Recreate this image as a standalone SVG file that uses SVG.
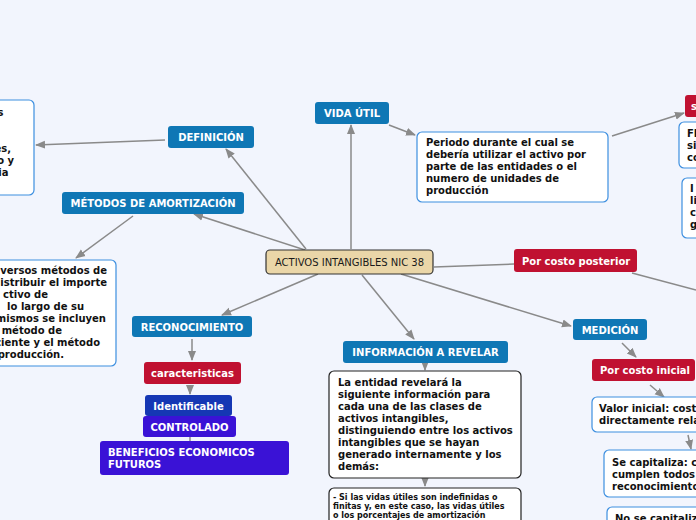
<svg xmlns="http://www.w3.org/2000/svg" width="696" height="520" viewBox="0 0 696 520">
<defs>
<marker id="ah" markerUnits="userSpaceOnUse" markerWidth="10" markerHeight="10" viewBox="0 0 10 10" refX="9" refY="5" orient="auto">
<path d="M0,1 L10,5 L0,9 Z" fill="#8a8a8a"/>
</marker>
<style>
text{font-family:"DejaVu Sans","Verdana",sans-serif;}
.bl{fill:#0f77b5;}
.rd{fill:#c01131;}
.nt{fill:#fff;font-weight:bold;font-size:10px;}
.wb{fill:#fff;stroke:#3d8fe0;stroke-width:1.2;}
.kb{fill:#fff;stroke:#222;stroke-width:1.2;}
.tx{fill:#111;font-weight:bold;font-size:10px;}
.sm{fill:#111;font-weight:bold;font-size:8px;}
.cn line{stroke:#8a8a8a;stroke-width:1.5;fill:none;}
</style>
</defs>
<rect width="696" height="520" fill="#f2f5fd"/>
<g class="cn" id="connectors">
<line x1="306" y1="249" x2="226" y2="149" marker-end="url(#ah)"/>
<line x1="165" y1="140" x2="36" y2="145" marker-end="url(#ah)"/>
<line x1="351" y1="249" x2="351" y2="125" marker-end="url(#ah)"/>
<line x1="389" y1="125" x2="415" y2="135" marker-end="url(#ah)"/>
<line x1="612" y1="136" x2="684" y2="113" marker-end="url(#ah)"/>
<line x1="305" y1="250" x2="194" y2="214" marker-end="url(#ah)"/>
<line x1="133" y1="216" x2="76" y2="258" marker-end="url(#ah)"/>
<line x1="318" y1="274" x2="222" y2="315" marker-end="url(#ah)"/>
<line x1="192" y1="339" x2="192" y2="360" marker-end="url(#ah)"/>
<line x1="190" y1="386" x2="190" y2="394" marker-end="url(#ah)"/>
<line x1="190" y1="437" x2="190" y2="441"/>
<line x1="362" y1="275" x2="414" y2="339" marker-end="url(#ah)"/>
<line x1="425" y1="364" x2="425" y2="370" marker-end="url(#ah)"/>
<line x1="425" y1="479" x2="425" y2="486" marker-end="url(#ah)"/>
<line x1="401" y1="274" x2="571" y2="326" marker-end="url(#ah)"/>
<line x1="622" y1="343" x2="636" y2="357" marker-end="url(#ah)"/>
<line x1="650" y1="385" x2="664" y2="397" marker-end="url(#ah)"/>
<line x1="688" y1="435" x2="691" y2="449" marker-end="url(#ah)"/>
<line x1="434" y1="267" x2="514" y2="264"/>
<line x1="632" y1="273" x2="696" y2="290"/>
</g>
<g id="central">
<rect x="266" y="250" width="167" height="24" rx="4" fill="#ead6a8" stroke="#333" stroke-width="1.2"/>
<text x="349.5" y="266" text-anchor="middle" font-size="10" fill="#1a1a1a">ACTIVOS INTANGIBLES NIC 38</text>
</g>
<g id="definicion">
<rect class="bl" x="168" y="126" width="86" height="22" rx="3"/>
<text class="nt" x="211" y="141" text-anchor="middle">DEFINICIÓN</text>
</g>
<g id="definicion-box">
<rect class="wb" x="-20" y="100" width="54" height="95" rx="5"/>
<text class="tx" x="3.5" y="116" text-anchor="end">s</text>
<text class="tx" x="11" y="152" text-anchor="end">es,</text>
<text class="tx" x="14" y="164" text-anchor="end">o y</text>
<text class="tx" x="8.5" y="176" text-anchor="end">ia</text>
</g>
<g id="vida-util">
<rect class="bl" x="315" y="102" width="74" height="22" rx="3"/>
<text class="nt" x="352" y="117" text-anchor="middle">VIDA ÚTIL</text>
</g>
<g id="vida-box">
<rect class="wb" x="417" y="132" width="191" height="70" rx="5"/>
<text class="tx" x="426" y="146">Periodo durante el cual se</text>
<text class="tx" x="426" y="158">debería utilizar el activo por</text>
<text class="tx" x="426" y="170">parte de las entidades o el</text>
<text class="tx" x="426" y="182">numero de unidades de</text>
<text class="tx" x="426" y="194">producción</text>
</g>
<g id="red-s">
<rect class="rd" x="685" y="95" width="30" height="22" rx="3"/>
<text class="nt" x="691" y="110">s</text>
</g>
<g id="fi-box">
<rect class="wb" x="679" y="122" width="40" height="46" rx="5"/>
<text class="tx" x="687" y="137">FI</text>
<text class="tx" x="687" y="149">si</text>
<text class="tx" x="687" y="161">co</text>
</g>
<g id="i-box">
<rect class="wb" x="682" y="178" width="40" height="60" rx="5"/>
<text class="tx" x="690" y="192">I</text>
<text class="tx" x="690" y="204">li</text>
<text class="tx" x="690" y="216">c</text>
<text class="tx" x="690" y="228">g</text>
</g>
<g id="metodos">
<rect class="bl" x="62" y="192" width="182" height="22" rx="3"/>
<text class="nt" x="153" y="207" text-anchor="middle">MÉTODOS DE AMORTIZACIÓN</text>
</g>
<g id="metodos-box">
<rect class="wb" x="-30" y="260" width="146" height="106" rx="5"/>
<text class="tx" x="107" y="274" text-anchor="end">iversos métodos de</text>
<text class="tx" x="107" y="286" text-anchor="end">istribuir el importe</text>
<text class="tx" x="48" y="298" text-anchor="end">ctivo de</text>
<text class="tx" x="84" y="310" text-anchor="end">lo largo de su</text>
<text class="tx" x="106" y="322" text-anchor="end">mismos se incluyen</text>
<text class="tx" x="62" y="334" text-anchor="end">método de</text>
<text class="tx" x="100" y="346" text-anchor="end">ciente y el método</text>
<text class="tx" x="64" y="358" text-anchor="end">producción.</text>
</g>
<g id="reconocimiento">
<rect class="bl" x="132" y="316" width="120" height="21" rx="3"/>
<text class="nt" x="192" y="330.5" text-anchor="middle">RECONOCIMIENTO</text>
</g>
<g id="caracteristicas">
<rect class="rd" x="144" y="362" width="97" height="22" rx="3"/>
<text class="nt" x="192.5" y="377" text-anchor="middle">caracteristicas</text>
</g>
<g id="identificable">
<rect x="145" y="395" width="87" height="21" rx="3" fill="#1537b4"/>
<text class="nt" x="188.5" y="409.5" text-anchor="middle">Identificable</text>
</g>
<g id="controlado">
<rect x="143" y="416" width="93" height="21" rx="3" fill="#3a12d6"/>
<text class="nt" x="189.5" y="430.5" text-anchor="middle">CONTROLADO</text>
</g>
<g id="beneficios">
<rect x="100" y="441" width="189" height="34" rx="3" fill="#3a12d6"/>
<text class="nt" x="108" y="456">BENEFICIOS ECONOMICOS</text>
<text class="nt" x="108" y="468">FUTUROS</text>
</g>
<g id="informacion">
<rect class="bl" x="343" y="341" width="165" height="22" rx="3"/>
<text class="nt" x="425.5" y="356" text-anchor="middle">INFORMACIÓN A REVELAR</text>
</g>
<g id="info-box">
<rect class="kb" x="329" y="371" width="192" height="107" rx="5"/>
<text class="tx" x="338" y="386">La entidad revelará la</text>
<text class="tx" x="338" y="398">siguiente información para</text>
<text class="tx" x="338" y="410">cada una de las clases de</text>
<text class="tx" x="338" y="422">activos intangibles,</text>
<text class="tx" x="338" y="434">distinguiendo entre los activos</text>
<text class="tx" x="338" y="446">intangibles que se hayan</text>
<text class="tx" x="338" y="458">generado internamente y los</text>
<text class="tx" x="338" y="470">demás:</text>
</g>
<g id="info-box2">
<rect class="kb" x="329" y="488" width="192" height="60" rx="5"/>
<text class="sm" x="333" y="500">- Si las vidas útiles son indefinidas o</text>
<text class="sm" x="333" y="509">finitas y, en este caso, las vidas útiles</text>
<text class="sm" x="333" y="518">o los porcentajes de amortización</text>
</g>
<g id="medicion">
<rect class="bl" x="573" y="319" width="74" height="21" rx="3"/>
<text class="nt" x="610" y="333.5" text-anchor="middle">MEDICIÓN</text>
</g>
<g id="costo-inicial">
<rect class="rd" x="592" y="359" width="103" height="22" rx="3"/>
<text class="nt" x="600" y="374">Por costo inicial</text>
</g>
<g id="valor-inicial">
<rect class="wb" x="592" y="397" width="130" height="35" rx="5"/>
<text class="tx" x="599" y="412">Valor inicial: costo</text>
<text class="tx" x="599" y="424">directamente relacionado</text>
</g>
<g id="se-capitaliza">
<rect class="wb" x="604" y="450" width="120" height="47" rx="5"/>
<text class="tx" x="612" y="466">Se capitaliza: cuando</text>
<text class="tx" x="612" y="478">cumplen todos</text>
<text class="tx" x="612" y="490">reconocimiento</text>
</g>
<g id="no-capitaliza">
<rect class="wb" x="607" y="507" width="120" height="40" rx="5"/>
<text class="tx" x="615" y="522">No se capitaliza</text>
</g>
<g id="costo-posterior">
<rect class="rd" x="514" y="249" width="123" height="23" rx="3"/>
<text class="nt" x="522" y="265">Por costo posterior</text>
</g>
</svg>
